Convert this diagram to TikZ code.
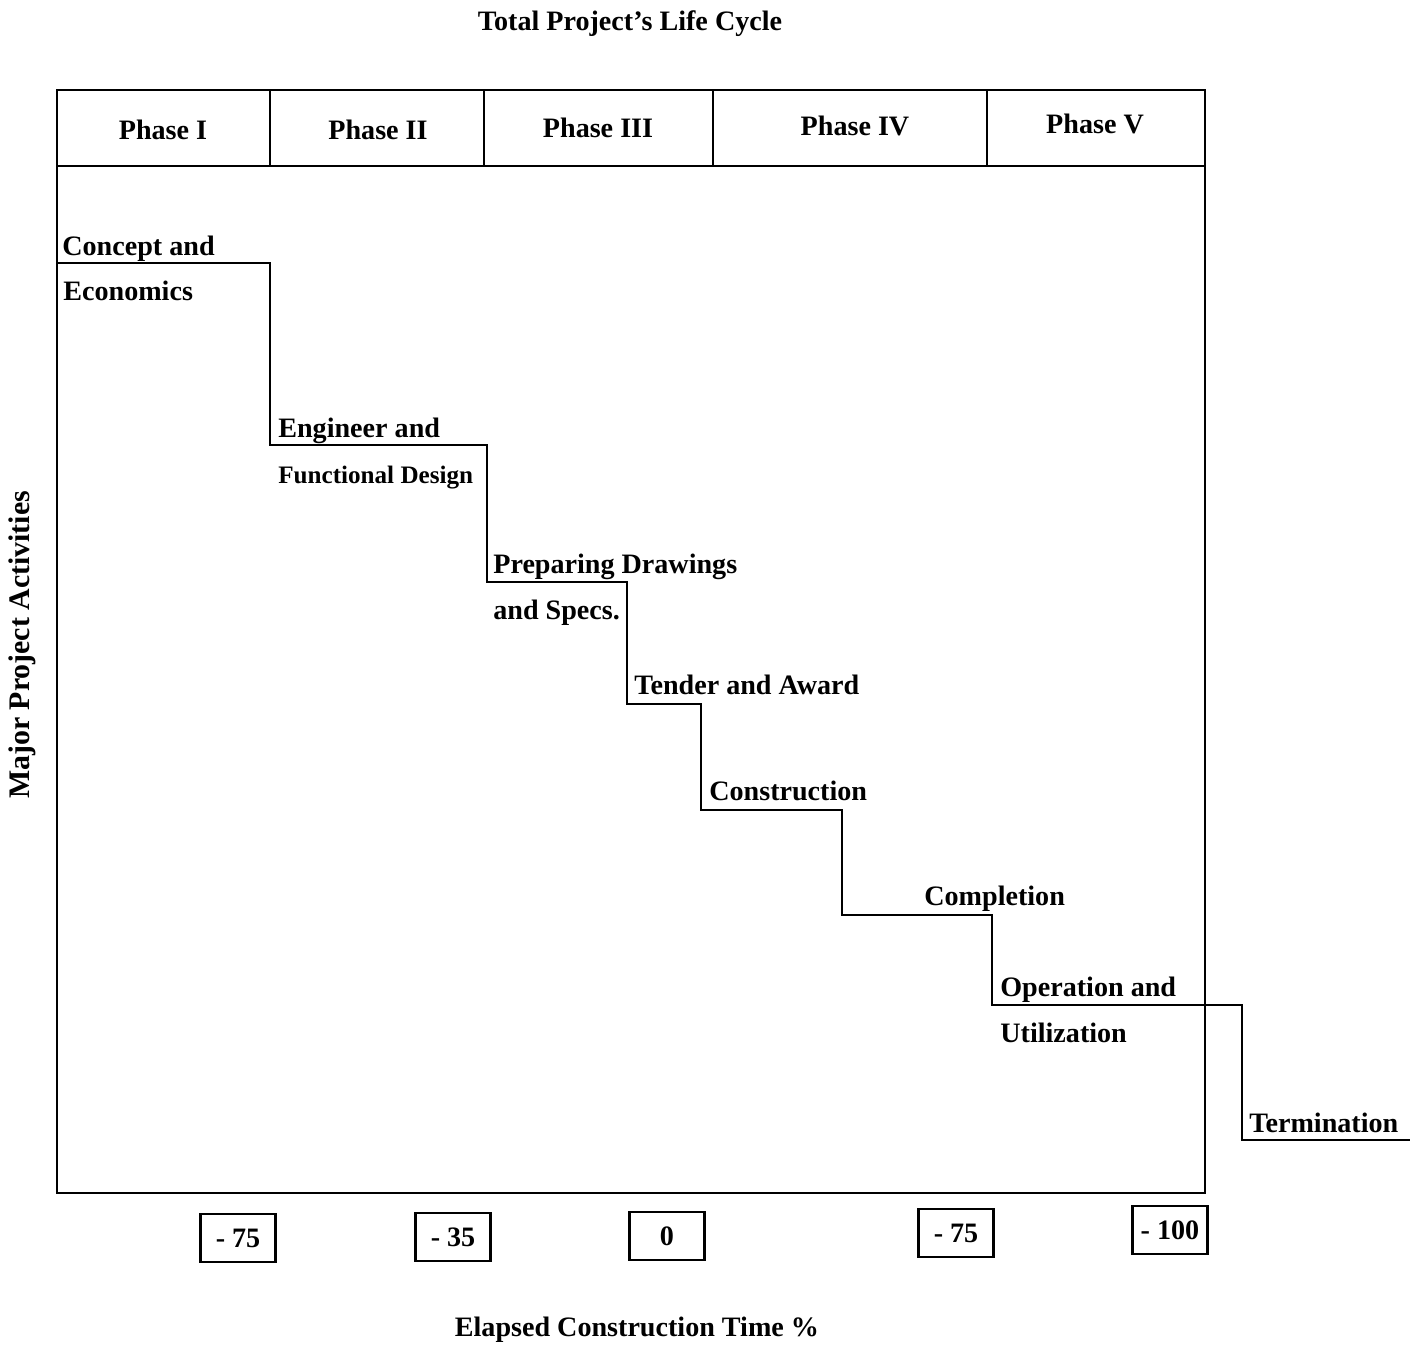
\documentclass[tikz,border=0pt]{standalone}
\usepackage{fontspec}
\setmainfont{Liberation Serif}
\begin{document}
\begin{tikzpicture}[x=0.02cm,y=-0.02cm,
  lbl/.style={font=\fontsize{16}{19}\selectfont\bfseries, inner sep=0pt},
  steplbl/.style={lbl, anchor=base west},
  valbox/.style={draw, line width=1.2pt, minimum width=1.5cm, minimum height=0.95cm, font=\fontsize{16}{19}\selectfont\bfseries},
  frame/.style={line width=1.2pt}]
\useasboundingbox (0,0) rectangle (1423,1349);
% frame
\draw[frame] (57,90) rectangle (1205,1193);
\draw[frame] (57,166) -- (1205,166);
\foreach \x in {270,484,713,987} \draw[frame] (\x,90) -- (\x,166);
% phase labels
\node[lbl] (p1) at (163,130) {Phase I};
\node[lbl] (p2) at (378,130) {Phase II};
\node[lbl] (p3) at (598,128) {Phase III};
\node[lbl] (p4) at (855,126) {Phase IV};
\node[lbl] (p5) at (1095,124) {Phase V};
% titles
\node[lbl] (title) at (630,24) {Total Project's Life Cycle};
\node[lbl] (xlab) at (637,1330) {Elapsed Construction Time \%};
\node[lbl, rotate=90, font=\fontsize{17}{20}\selectfont\bfseries] (ylab) at (22,645) {Major Project Activities};
% staircase corners
\coordinate (s0) at (57,263);
\coordinate (s1) at (270,263);
\coordinate (s2) at (270,445);
\coordinate (s3) at (487,445);
\coordinate (s4) at (487,582);
\coordinate (s5) at (627,582);
\coordinate (s6) at (627,704);
\coordinate (s7) at (701,704);
\coordinate (s8) at (701,810);
\coordinate (s9) at (842,810);
\coordinate (s10) at (842,915);
\coordinate (s11) at (992,915);
\coordinate (s12) at (992,1005);
\coordinate (s13) at (1242,1005);
\coordinate (s14) at (1242,1140);
\coordinate (s15) at (1410,1140);
\draw[frame] (s0) -- (s1) -- (s2) -- (s3) -- (s4) -- (s5) -- (s6) -- (s7) -- (s8) -- (s9) -- (s10) -- (s11) -- (s12) -- (s13) -- (s14) -- (s15);
% step labels
\node[steplbl] (a1) at (62,255) {Concept and};
\node[steplbl] (a2) at (63,300) {Economics};
\node[steplbl] (b1) at (278,437) {Engineer and};
\node[steplbl, font=\fontsize{14.3}{17}\selectfont\bfseries] (b2) at (278,483) {Functional Design};
\node[steplbl] (c1) at (493,573) {Preparing Drawings};
\node[steplbl] (c2) at (493,619) {and Specs.};
\node[steplbl] (d1) at (634,694) {Tender and Award};
\node[steplbl] (e1) at (709,800) {Construction};
\node[steplbl] (f1) at (924,905) {Completion};
\node[steplbl] (g1) at (1000,996) {Operation and};
\node[steplbl] (g2) at (1000,1042) {Utilization};
\node[steplbl] (h1) at (1249,1132) {Termination};
% value boxes
\node[valbox] (v1) at (238,1238) {- 75};
\node[valbox] (v2) at (453,1237) {- 35};
\node[valbox] (v3) at (667,1236) {0};
\node[valbox] (v4) at (956,1233) {- 75};
\node[valbox] (v5) at (1170,1230) {- 100};
\end{tikzpicture}
\end{document}
